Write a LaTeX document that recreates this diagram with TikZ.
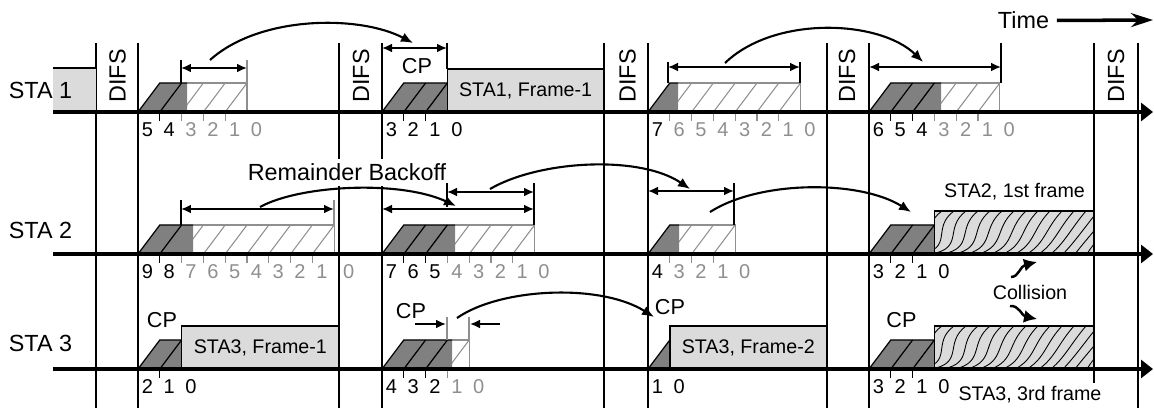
\documentclass[tikz,border=0pt]{standalone}
\usepackage{fontspec}
\setmainfont{Liberation Sans}
\usetikzlibrary{arrows.meta,calc,positioning}
\definecolor{frmgray}{gray}{0.86}
\definecolor{cntgray}{gray}{0.5}
\definecolor{numgray}{gray}{0.56}
\tikzset{
    vline/.style = {line width=0.85pt},
    axis/.style = {line width=2pt, -{Triangle[length=2.4mm,width=3.6mm]}},
    tick/.style = {line width=0.7pt},
    edge/.style = {line width=0.7pt},
    hatch/.style = {draw=numgray, line width=0.6pt},
    num/.style = {anchor=west, inner sep=0pt, font=\fontsize{11.4}{13}\selectfont}
}
\newcommand{\slotw}{21.8}
% backoff counter: name, start, axis, slots, slots counted, end of dark part, shift of the 0
\newcommand{\bkoff}[7]{%
    \pgfmathsetmacro{\bkend}{#2+#4*\slotw}%
    \pgfmathtruncatemacro{\bklast}{#4-1}%
    \ifnum#5<#4
        \def\bkd{#6}%
        \draw[hatch] (\bkd,#3-29) -- (\bkend,#3-29) -- (\bkend,#3);
        \begin{scope}
            \clip (\bkd,#3) rectangle (\bkend,#3-29);
            \foreach \i in {#5,...,\bklast}
                \draw[hatch] (#2+\i*\slotw,#3) -- (#2+\i*\slotw+\slotw,#3-29);
        \end{scope}
    \else
        \let\bkd\bkend
    \fi
    \fill[cntgray] (#2,#3) -- (#2+\slotw,#3-29) -- (\bkd,#3-29) -- (\bkd,#3) -- cycle;
    \draw[edge] (#2,#3) -- (#2+\slotw,#3-29) -- (\bkd,#3-29);
    \ifnum#5>1
        \pgfmathtruncatemacro{\bkblk}{#5-1}%
        \foreach \i in {1,...,\bkblk}
            \draw[edge] (#2+\i*\slotw,#3) -- (#2+\i*\slotw+\slotw,#3-29);
    \fi
    \ifnum#4>1
        \foreach \i in {1,...,\bklast}{
            \ifnum\i<#5 \def\bkcol{black}\else\def\bkcol{numgray}\fi
            \draw[tick, draw=\bkcol] (#2+\i*\slotw,#3) -- (#2+\i*\slotw,#3+9);
        }
    \fi
    \foreach \v in {0,...,#4}{
        \pgfmathtruncatemacro{\isblk}{or(\v>#4-#5,#5==#4)}%
        \ifnum\isblk=1 \def\bkcol{black}\else\def\bkcol{numgray}\fi
        \pgfmathsetmacro{\lx}{#2+(#4-\v)*\slotw+3.5+(\v==0)*#7}%
        \node[num, text=\bkcol] (#1-\v) at (\lx,#3+18) {\v};
    }%
}

\begin{document}
\begin{tikzpicture}[x=0.02cm, y=-0.02cm,
    lbl/.style={inner sep=0pt, font=\fontsize{13.3}{15}\selectfont},
    sml/.style={inner sep=0pt, font=\fontsize{11.2}{13}\selectfont},
    cpl/.style={inner sep=0pt, font=\fontsize{12.3}{14}\selectfont},
    frame/.style={draw, fill=frmgray, line width=0.8pt, inner sep=0pt, outer sep=0pt,
        minimum height=0.86cm, anchor=south west, font=\fontsize{11.2}{13}\selectfont},
    dbl/.style={{Latex[length=2mm,width=1.8mm]}-{Latex[length=2mm,width=1.8mm]}, line width=1.1pt},
    one/.style={-{Latex[length=2mm,width=1.8mm]}, line width=1.1pt},
    arc/.style={-{Latex[length=2.4mm,width=2mm]}, line width=1.2pt},
    hit/.style={-{Latex[length=2.6mm,width=2.6mm]}, line width=1.4pt},
    wave/.style={line width=0.5pt},
    timearr/.style={line width=2pt, -{Stealth[length=4.4mm,width=2.8mm]}}
]
\useasboundingbox (0,0) rectangle (1154,408);

% slot boundaries
\foreach \x in {96,138,339,382,604,648,827,869,1138}
    \draw[vline] (\x,43) -- (\x,408);
\draw[vline] (1094,43) -- (1094,383);

\fill[frmgray] (53,68) rectangle (96,112);
\draw[edge] (53,68) -- (96,68);
\node[lbl] (sta1) at (40.5,90.5) {STA 1};
\node[lbl] (sta2) at (40.5,230) {STA 2};
\node[lbl] (sta3) at (40.5,343.5) {STA 3};
\foreach \x [count=\n] in {117.5,361,627.5,847,1116}
    \node[lbl, rotate=90] (difs\n) at (\x,76) {DIFS};
\node[lbl, fill=white, inner xsep=2pt, inner ysep=1mm] (remb) at (347,172.5) {Remainder Backoff};

% counters
\bkoff{s1a}{138}{112}{5}{2}{187}{0}
\bkoff{s1b}{382}{112}{3}{3}{0}{0}
\bkoff{s1c}{648}{112}{7}{1}{678}{0}
\bkoff{s1d}{869}{112}{6}{3}{941}{0}
\bkoff{s2a}{138}{254}{9}{2}{193}{5}
\bkoff{s2b}{382}{254}{7}{3}{455}{0}
\bkoff{s2c}{648}{254}{4}{1}{679}{0}
\bkoff{s2d}{869}{254}{3}{3}{0}{0}
\bkoff{s3a}{138}{369}{2}{2}{0}{0}
\bkoff{s3b}{382}{369}{4}{3}{452}{0}
\bkoff{s3c}{648}{369}{1}{1}{0}{0}
\bkoff{s3d}{869}{369}{3}{3}{0}{0}

% frames
\node[frame, minimum width=3.13cm] (fr11) at (447.4,112) {STA1, Frame-1};
\node[frame, minimum width=3.15cm] (fr31) at (181.6,369) {STA3, Frame-1};
\node[frame, minimum width=3.14cm] (fr32) at (669.8,369) {STA3, Frame-2};
\node[frame, minimum width=3.19cm] (col2) at (934.4,254) {};
\node[frame, minimum width=3.19cm] (col3) at (934.4,369) {};
\foreach \cy in {254,369}{
    \begin{scope}
        \clip (934.4,\cy) rectangle (1094,\cy-43);
        \foreach \i in {0,...,16}
            \draw[wave] (895+\i*12,\cy) .. controls (935+\i*12-2*\i,\cy-4-0.6*\i)
                and (905+\i*12+0.8*\i,\cy-26) .. (930+\i*12,\cy-43);
    \end{scope}
}

\foreach \y in {112,254,369}
    \draw[axis] (53,\y) -- (1153,\y);

% STA 1 intervals
\draw[tick] (181,60) -- (181,83);
\draw[tick, draw=numgray] (247,60) -- (247,83);
\draw[dbl] (181,68) -- (247,68);
\draw[tick] (447,43) -- (447,69);
\draw[dbl] (382,48) -- (447,48);
\draw[tick] (668,62) -- (668,83);
\draw[tick] (800,62) -- (800,83);
\draw[dbl] (668,67) -- (800,67);
\draw[tick] (1001,43) -- (1001,83);
\draw[dbl] (869,67) -- (1001,67);

% STA 2 intervals
\draw[tick] (181,200) -- (181,225);
\draw[tick, draw=numgray] (334,200) -- (334,225);
\draw[dbl] (181,209) -- (334,209);
\draw[tick] (447,183) -- (447,207);
\draw[tick] (534,183) -- (534,225);
\draw[dbl] (382,209) -- (534,209);
\draw[dbl] (447,192) -- (534,192);
\draw[tick] (734,183) -- (734,225);
\draw[dbl] (648,191) -- (734,191);

% STA 3 interval
\draw[tick, draw=numgray] (447,317) -- (447,340);
\draw[tick, draw=numgray] (469,317) -- (469,340);
\draw[one] (415,324) -- (446,324);
\draw[one] (500,324) -- (470,324);

% carried over backoff
\coordinate (a1s) at (210,60);  \coordinate (a1e) at (413,43);
\coordinate (a2s) at (725,63);  \coordinate (a2e) at (923,62);
\coordinate (a3s) at (260,207); \coordinate (a3e) at (456,206);
\coordinate (a4s) at (490,189); \coordinate (a4e) at (690,189);
\coordinate (a5s) at (710,212); \coordinate (a5e) at (911,212);
\coordinate (a6s) at (457,318); \coordinate (a6e) at (654,317);
\draw[arc] (a1s) .. controls (260,15) and (360,15) .. (a1e);
\draw[arc] (a2s) .. controls (775,15) and (880,20) .. (a2e);
\draw[arc] (a3s) .. controls (300,185) and (400,180) .. (a3e);
\draw[arc] (a4s) .. controls (540,160) and (640,155) .. (a4e);
\draw[arc] (a5s) .. controls (760,180) and (860,180) .. (a5e);
\draw[arc] (a6s) .. controls (500,288) and (600,283) .. (a6e);

\node[cpl] (cp1) at (417,66.5) {CP};
\node[cpl] (cp2) at (162,320) {CP};
\node[cpl] (cp3) at (411,311.5) {CP};
\node[cpl] (cp4) at (670,307.5) {CP};
\node[cpl] (cp5) at (901.5,320) {CP};
\node[sml] (sta2f) at (1014.5,191.5) {STA2, 1st frame};
\node[sml] (sta3f) at (1030,395) {STA3, 3rd frame};
\node[sml] (coll) at (1030,292.5) {Collision};
\coordinate (c1s) at (1011,277); \coordinate (c1e) at (1037,262);
\coordinate (c2s) at (1010,306); \coordinate (c2e) at (1037,319);
\draw[hit] (c1s) .. controls (1019,277) and (1020,266) .. (c1e);
\draw[hit] (c2s) .. controls (1019,305) and (1022,316) .. (c2e);

\node[lbl] (time) at (1023.5,20.5) {Time};
\coordinate (tarr) at (1153,20);
\draw[timearr] ([xshift=1.5mm]time.east) -- (tarr);
\end{tikzpicture}
\end{document}
